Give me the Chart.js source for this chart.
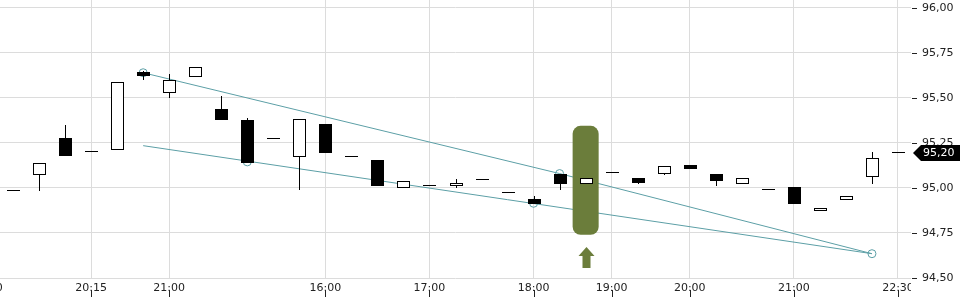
<!DOCTYPE html>
<html>
<head>
<meta charset="utf-8">
<script src="https://cdn.jsdelivr.net/npm/chart.js@4.4.1/dist/chart.umd.min.js"></script>
<style>
  html, body { margin: 0; padding: 0; background: #fff; }
  #wrap { width: 960px; height: 300px; }
</style>
</head>
<body>
<div id="wrap"><canvas id="chart" width="960" height="300"></canvas></div>
<script>
// candle values, one entry per bar (index 0..34)
const opens  = [94.99, 95.075, 95.275, 95.205, 95.215, 95.645, 95.535, 95.62, 95.44, 95.38,
                95.275, 95.175, 95.355, 95.175, 95.155, 95.005, 95.015, 95.015, 95.05, 94.975,
                94.94, 95.08, 95.025, 95.09, 95.055, 95.085, 95.13, 95.08, 95.025, 94.995,
                95.005, 94.875, 94.94, 95.065, 95.20];
const highs  = [94.99, 95.14, 95.35, 95.205, 95.59, 95.65, 95.635, 95.67, 95.51, 95.39,
                95.275, 95.385, 95.355, 95.175, 95.155, 95.04, 95.015, 95.05, 95.05, 94.975,
                94.955, 95.08, 95.055, 95.09, 95.055, 95.12, 95.13, 95.08, 95.055, 94.995,
                95.005, 94.89, 94.955, 95.20, 95.20];
const lows   = [94.99, 94.99, 95.185, 95.205, 95.215, 95.605, 95.505, 95.62, 95.385, 95.145,
                95.275, 94.995, 95.20, 95.175, 95.015, 95.005, 95.015, 95.005, 95.05, 94.975,
                94.915, 94.995, 95.025, 95.09, 95.03, 95.078, 95.113, 95.015, 95.025, 94.995,
                94.915, 94.875, 94.94, 95.03, 95.20];
const closes = [94.99, 95.14, 95.185, 95.205, 95.59, 95.63, 95.60, 95.67, 95.385, 95.145,
                95.275, 95.385, 95.20, 95.175, 95.015, 95.04, 95.015, 95.03, 95.05, 94.975,
                94.915, 95.025, 95.055, 95.09, 95.035, 95.12, 95.113, 95.045, 95.055, 94.995,
                94.915, 94.89, 94.955, 95.165, 95.20];

// x axis labels sit on these bar indices
const xTickIdx    = [-1, 3, 6, 12, 16, 20, 23, 26, 30, 34];
const xTickLabels = ['20:00', '20:15', '21:00', '16:00', '17:00', '18:00', '19:00', '20:00', '21:00', '22:30'];
const yTicks = [94.50, 94.75, 95.00, 95.25, 95.50, 95.75, 96.00];

// drawn trend lines and their anchor points
const upperLine = [{x: 5, y: 95.64}, {x: 21, y: 95.08}, {x: 33, y: 94.635}];
const lowerLine = [{x: 5, y: 95.235}, {x: 33, y: 94.635}];
const anchors   = [{x: 5, y: 95.64}, {x: 9, y: 95.145}, {x: 20, y: 94.915}, {x: 21, y: 95.08}, {x: 33, y: 94.635}];

// highlighted bar (green marker) and last price
const markIdx = 22;
const markFrom = 94.74;
const markTo = 95.345;
const lastPrice = 95.20;

const TEAL = '#5c9fa6';
const GREEN = '#6b7d3b';
const FONT = '11px "DejaVu Sans"';
const fmt = v => v.toFixed(2).replace('.', ',');

const candlePlugin = {
    id: 'candles',
    afterDatasetsDraw(chart) {
        const { ctx, scales: { x, y } } = chart;
        ctx.save();

        // green marker behind the bar
        const mx0 = x.getPixelForValue(markIdx - 0.5);
        const mx1 = x.getPixelForValue(markIdx + 0.5);
        const my0 = y.getPixelForValue(markTo);
        const my1 = y.getPixelForValue(markFrom);
        ctx.fillStyle = GREEN;
        ctx.beginPath();
        ctx.roundRect(mx0, my0, mx1 - mx0, my1 - my0, 8);
        ctx.fill();

        // up arrow under it
        const ax = Math.round(x.getPixelForValue(markIdx)) + 0.5;
        const tip = Math.round(my1) + 12;
        ctx.beginPath();
        ctx.moveTo(ax, tip);
        ctx.lineTo(ax + 8, tip + 9);
        ctx.lineTo(ax + 4, tip + 9);
        ctx.lineTo(ax + 4, tip + 21);
        ctx.lineTo(ax - 4, tip + 21);
        ctx.lineTo(ax - 4, tip + 9);
        ctx.lineTo(ax - 8, tip + 9);
        ctx.closePath();
        ctx.fill();

        // candles
        for (let i = 0; i < opens.length; i++) {
            const cx = Math.round(x.getPixelForValue(i));
            const yo = Math.round(y.getPixelForValue(opens[i]));
            const yc = Math.round(y.getPixelForValue(closes[i]));
            const yh = Math.round(y.getPixelForValue(highs[i]));
            const yl = Math.round(y.getPixelForValue(lows[i]));
            const top = Math.min(yo, yc), bot = Math.max(yo, yc);
            ctx.fillStyle = '#000';
            ctx.fillRect(cx, yh, 1, yl - yh + 1);
            if (bot - top < 1) {
                ctx.fillRect(cx - 6, top, 13, 1);
                continue;
            }
            ctx.fillRect(cx - 6, top, 13, bot - top + 1);
            if (closes[i] > opens[i]) {
                ctx.fillStyle = '#fff';
                ctx.fillRect(cx - 5, top + 1, 11, bot - top - 1);
            }
        }
        ctx.restore();
    },
    afterDraw(chart) {
        const { ctx, chartArea, scales: { x, y } } = chart;
        ctx.save();
        ctx.font = FONT;
        ctx.fillStyle = '#222';

        // x labels, clipped at the plot's right edge
        ctx.save();
        ctx.beginPath();
        ctx.rect(0, chartArea.bottom, chartArea.right, 22);
        ctx.clip();
        ctx.textAlign = 'center';
        ctx.textBaseline = 'alphabetic';
        xTickIdx.forEach((idx, k) => {
            ctx.fillText(xTickLabels[k], x.getPixelForValue(idx), 291);
        });
        ctx.restore();

        // y labels
        ctx.textAlign = 'left';
        ctx.textBaseline = 'middle';
        yTicks.forEach(v => {
            ctx.fillText(fmt(v), chartArea.right + 11, y.getPixelForValue(v));
        });

        // small tick marks
        xTickIdx.forEach(idx => {
            const px = Math.round(x.getPixelForValue(idx));
            ctx.fillRect(px, 290, 1, 7);
        });
        yTicks.forEach(v => {
            ctx.fillRect(chartArea.right + 1, Math.round(y.getPixelForValue(v)), 5, 1);
        });

        // last price tag
        const cy = Math.round(y.getPixelForValue(lastPrice)) + 1;
        ctx.fillStyle = '#000';
        ctx.beginPath();
        ctx.moveTo(chartArea.right + 2, cy);
        ctx.lineTo(chartArea.right + 10, cy - 8);
        ctx.lineTo(960, cy - 8);
        ctx.lineTo(960, cy + 8);
        ctx.lineTo(chartArea.right + 10, cy + 8);
        ctx.closePath();
        ctx.fill();
        ctx.fillStyle = '#fff';
        ctx.fillText(fmt(lastPrice), chartArea.right + 12, cy);
        ctx.restore();
    }
};

new Chart(document.getElementById('chart'), {
    type: 'scatter',
    data: {
        datasets: [
            {
                data: upperLine,
                showLine: true,
                borderColor: TEAL,
                borderWidth: 1,
                pointRadius: 0,
            },
            {
                data: lowerLine,
                showLine: true,
                borderColor: TEAL,
                borderWidth: 1,
                pointRadius: 0,
            },
            {
                data: anchors,
                showLine: false,
                pointRadius: 4,
                pointBorderWidth: 1,
                pointBorderColor: TEAL,
                pointBackgroundColor: 'rgba(0,0,0,0)',
            },
        ]
    },
    options: {
        responsive: false,
        animation: false,
        layout: { autoPadding: false, padding: { bottom: 22 } },
        plugins: {
            legend: { display: false },
            tooltip: { enabled: false }
        },
        scales: {
            x: {
                type: 'linear',
                min: -0.5,
                max: 34.5,
                afterBuildTicks: axis => { axis.ticks = xTickIdx.map(v => ({ value: v })); },
                ticks: { display: false },
                grid: { color: '#dcdcdc', drawTicks: false },
                border: { display: false }
            },
            y: {
                position: 'right',
                min: 94.5,
                max: 96.044,
                afterBuildTicks: axis => { axis.ticks = yTicks.map(v => ({ value: v })); },
                afterFit: axis => { axis.width = 49; },
                ticks: { display: false },
                grid: { color: '#dcdcdc', drawTicks: false },
                border: { display: false }
            }
        }
    },
    plugins: [candlePlugin]
});
</script>
</body>
</html>
